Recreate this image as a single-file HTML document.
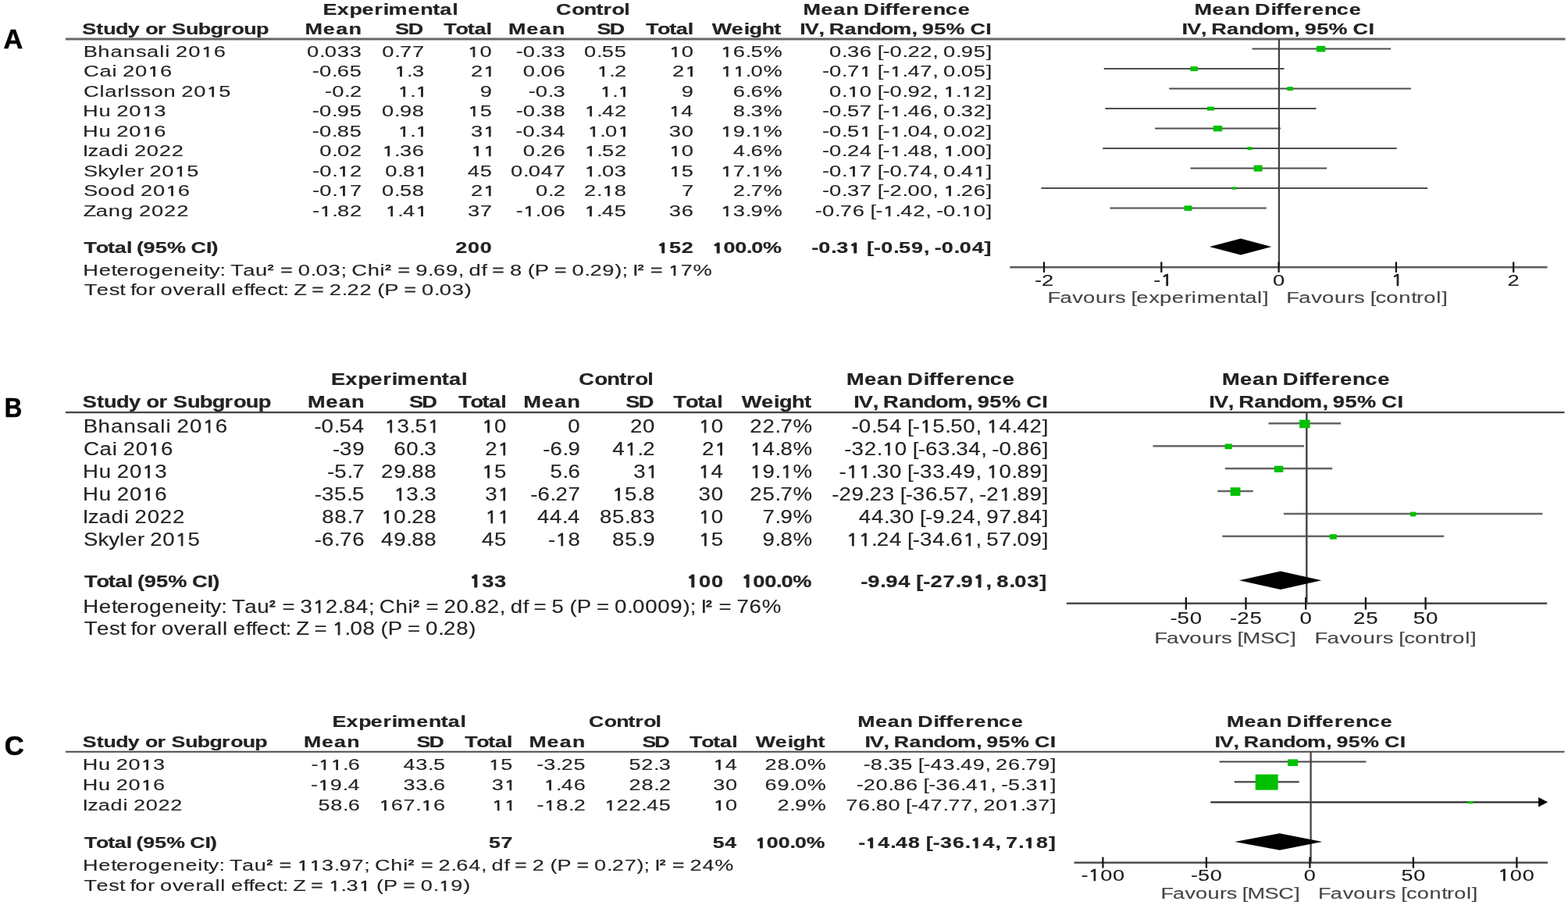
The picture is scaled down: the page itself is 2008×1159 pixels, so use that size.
<!DOCTYPE html><html><head><meta charset="utf-8"><style>
html,body{margin:0;padding:0;background:#fff;}
body{width:2008px;height:1159px;position:relative;overflow:hidden;}
svg{position:absolute;left:0;top:0;}
text{font-family:"Liberation Sans",Arial,sans-serif;font-size:12px;fill:#222;white-space:pre;stroke:var(--c,#222);stroke-width:0.06px;}
text.b{font-weight:bold;stroke-width:0.12px;}
.o{font-family:NanumGothic,"Liberation Sans",sans-serif;font-size:11.1px;stroke:var(--c,#222);stroke-width:0.42px;}
text.b .o{font-size:10.9px;stroke-width:0.6px;}
.sup{baseline-shift:1.5px;font-size:9.5px;stroke-width:0.4px;}
</style></head><body>
<svg width="2008" height="1159" viewBox="0 0 2008 1159">
<line x1="1603.50" y1="62.60" x2="1781.11" y2="62.60" stroke="#4d4d4d" stroke-width="2.00"/>
<line x1="1413.75" y1="88.10" x2="1644.49" y2="88.10" stroke="#4d4d4d" stroke-width="2.00"/>
<line x1="1497.24" y1="113.60" x2="1806.92" y2="113.60" stroke="#4d4d4d" stroke-width="2.00"/>
<line x1="1415.27" y1="139.10" x2="1685.48" y2="139.10" stroke="#4d4d4d" stroke-width="2.00"/>
<line x1="1479.03" y1="164.60" x2="1639.94" y2="164.60" stroke="#4d4d4d" stroke-width="2.00"/>
<line x1="1412.24" y1="190.10" x2="1788.70" y2="190.10" stroke="#4d4d4d" stroke-width="2.00"/>
<line x1="1524.57" y1="215.60" x2="1699.14" y2="215.60" stroke="#4d4d4d" stroke-width="2.00"/>
<line x1="1333.30" y1="241.10" x2="1828.17" y2="241.10" stroke="#4d4d4d" stroke-width="2.00"/>
<line x1="1421.34" y1="266.60" x2="1621.72" y2="266.60" stroke="#4d4d4d" stroke-width="2.00"/>
<line x1="84.00" y1="50.00" x2="2004.50" y2="50.00" stroke="#666" stroke-width="2.80"/>
<line x1="1637.90" y1="49.75" x2="1637.90" y2="342.20" stroke="#404040" stroke-width="2.20"/>
<line x1="1293.30" y1="342.20" x2="1981.60" y2="342.20" stroke="#5a5a5a" stroke-width="2.60"/>
<line x1="1337.00" y1="335.40" x2="1337.00" y2="348.90" stroke="#151515" stroke-width="2.30"/>
<line x1="1487.30" y1="335.40" x2="1487.30" y2="348.90" stroke="#151515" stroke-width="2.30"/>
<line x1="1637.60" y1="335.40" x2="1637.60" y2="348.90" stroke="#151515" stroke-width="2.30"/>
<line x1="1787.90" y1="335.40" x2="1787.90" y2="348.90" stroke="#151515" stroke-width="2.30"/>
<line x1="1938.20" y1="335.40" x2="1938.20" y2="348.90" stroke="#151515" stroke-width="2.30"/>
<polygon points="1548.90,316.00 1588.90,305.40 1628.30,316.00 1588.90,326.60" fill="#000"/>
<line x1="1624.52" y1="542.30" x2="1717.14" y2="542.30" stroke="#666" stroke-width="2.50"/>
<line x1="1476.42" y1="571.20" x2="1669.84" y2="571.20" stroke="#666" stroke-width="2.50"/>
<line x1="1568.83" y1="600.10" x2="1706.21" y2="600.10" stroke="#666" stroke-width="2.50"/>
<line x1="1559.29" y1="629.00" x2="1604.74" y2="629.00" stroke="#666" stroke-width="2.50"/>
<line x1="1643.90" y1="657.90" x2="1975.37" y2="657.90" stroke="#666" stroke-width="2.50"/>
<line x1="1565.36" y1="686.80" x2="1849.23" y2="686.80" stroke="#666" stroke-width="2.50"/>
<line x1="84.00" y1="528.20" x2="2003.50" y2="528.20" stroke="#444" stroke-width="2.30"/>
<line x1="1673.30" y1="528.00" x2="1673.30" y2="772.70" stroke="#4a4a4a" stroke-width="2.50"/>
<line x1="1365.80" y1="772.70" x2="1981.20" y2="772.70" stroke="#4a4a4a" stroke-width="2.60"/>
<line x1="1518.80" y1="764.90" x2="1518.80" y2="780.70" stroke="#151515" stroke-width="2.30"/>
<line x1="1595.50" y1="764.90" x2="1595.50" y2="780.70" stroke="#151515" stroke-width="2.30"/>
<line x1="1672.20" y1="764.90" x2="1672.20" y2="780.70" stroke="#151515" stroke-width="2.30"/>
<line x1="1748.90" y1="764.90" x2="1748.90" y2="780.70" stroke="#151515" stroke-width="2.30"/>
<line x1="1825.60" y1="764.90" x2="1825.60" y2="780.70" stroke="#151515" stroke-width="2.30"/>
<polygon points="1586.90,743.30 1639.90,731.50 1692.30,743.30 1639.90,755.10" fill="#000"/>
<line x1="1561.70" y1="975.50" x2="1749.48" y2="975.50" stroke="#454545" stroke-width="2.20"/>
<line x1="1580.62" y1="1001.40" x2="1663.71" y2="1001.40" stroke="#454545" stroke-width="2.20"/>
<line x1="1550.27" y1="1027.30" x2="1972.10" y2="1027.30" stroke="#2a2a2a" stroke-width="2.20"/>
<polygon points="1970.10,1021.10 1982.10,1027.30 1970.10,1033.50" fill="#000"/>
<line x1="84.00" y1="962.80" x2="2003.50" y2="962.80" stroke="#4a4a4a" stroke-width="2.10"/>
<line x1="1678.60" y1="962.60" x2="1678.60" y2="1104.70" stroke="#454545" stroke-width="2.30"/>
<line x1="1375.50" y1="1104.70" x2="1982.10" y2="1104.70" stroke="#4e4e4e" stroke-width="2.60"/>
<line x1="1412.40" y1="1097.60" x2="1412.40" y2="1111.70" stroke="#151515" stroke-width="2.30"/>
<line x1="1544.90" y1="1097.60" x2="1544.90" y2="1111.70" stroke="#151515" stroke-width="2.30"/>
<line x1="1677.40" y1="1097.60" x2="1677.40" y2="1111.70" stroke="#151515" stroke-width="2.30"/>
<line x1="1809.90" y1="1097.60" x2="1809.90" y2="1111.70" stroke="#151515" stroke-width="2.30"/>
<line x1="1942.40" y1="1097.60" x2="1942.40" y2="1111.70" stroke="#151515" stroke-width="2.30"/>
<polygon points="1581.30,1078.00 1638.70,1067.20 1693.30,1078.00 1638.70,1088.80" fill="#000"/>
<rect x="1685.80" y="58.80" width="11.50" height="7.60" fill="#00c000"/>
<rect x="1524.37" y="85.10" width="9.50" height="6.00" fill="#00c000"/>
<rect x="1648.33" y="111.10" width="7.50" height="5.00" fill="#00c000"/>
<rect x="1545.87" y="136.60" width="9.00" height="5.00" fill="#00c000"/>
<rect x="1553.73" y="160.90" width="11.50" height="7.40" fill="#00c000"/>
<rect x="1597.47" y="188.10" width="6.00" height="4.00" fill="#00c000"/>
<rect x="1605.59" y="211.60" width="11.00" height="8.00" fill="#00c000"/>
<rect x="1578.23" y="239.35" width="5.00" height="3.50" fill="#00c000"/>
<rect x="1516.53" y="263.30" width="10.00" height="6.60" fill="#00c000"/>
<rect x="1664.13" y="537.60" width="13.40" height="10.60" fill="#00c000"/>
<rect x="1568.53" y="568.40" width="9.20" height="6.80" fill="#00c000"/>
<rect x="1631.77" y="596.60" width="11.50" height="8.20" fill="#00c000"/>
<rect x="1575.62" y="624.25" width="12.80" height="10.70" fill="#00c000"/>
<rect x="1805.94" y="655.60" width="7.40" height="5.80" fill="#00c000"/>
<rect x="1702.79" y="684.20" width="9.00" height="6.40" fill="#00c000"/>
<rect x="1649.09" y="972.40" width="13.00" height="8.60" fill="#00c000"/>
<rect x="1607.67" y="991.70" width="29.00" height="20.00" fill="#00c000"/>
<rect x="1879.84" y="1026.00" width="6.50" height="3.20" fill="#00c000"/>
<text id="t0" transform="matrix(0.9521 0 0 0.9932 4.54 62.10)" x="0" y="0" class="b" style="font-size:36px;stroke:#000;stroke-width:0.6px;fill:#000;--c:#000;">A</text>
<text id="t1" transform="matrix(2.2500 0 0 1.6715 413.49 18.80)" x="0 8.07 15.13 22.2 29.26 34.3 37.33 48.43 55.49 62.55 66.59 73.65" y="0" class="b">Experimental</text>
<text id="t2" transform="matrix(2.2500 0 0 1.6715 711.99 18.80)" x="0 8.96 15.92 22.89 26.87 31.84 38.81" y="0" class="b">Control</text>
<text id="t3" transform="matrix(2.2500 0 0 1.6715 1028.59 18.80)" x="0 10.12 17.21 24.29 31.37 34.41 43.52 46.56 50.6 54.65 61.74 66.8 73.88 80.97 88.05" y="0" class="b">Mean Difference</text>
<text id="t4" transform="matrix(2.2500 0 0 1.6715 1529.49 18.80)" x="0 10.13 17.22 24.31 31.41 34.45 43.56 46.6 50.66 54.71 61.8 66.86 73.96 81.05 88.14" y="0" class="b">Mean Difference</text>
<text id="t5" transform="matrix(2.2500 0 0 1.6715 105.22 44.15)" x="0 8 12 19 26 33 36 43 48 51 59 66 73 80 85 92 99" y="0" class="b">Study or Subgroup</text>
<text id="t6" transform="matrix(2.2500 0 0 1.6715 390.59 44.15)" x="0 10.35 17.59 24.84" y="0" class="b">Mean</text>
<text id="t7" transform="matrix(2.2500 0 0 1.6715 506.12 44.15)" x="0 7.34" y="0" class="b">SD</text>
<text id="t8" transform="matrix(2.2500 0 0 1.6715 568.30 44.15)" x="0 6.76 13.52 17.38 24.14" y="0" class="b">Total</text>
<text id="t9" transform="matrix(2.2500 0 0 1.6715 651.09 44.15)" x="0 10.35 17.59 24.84" y="0" class="b">Mean</text>
<text id="t10" transform="matrix(2.2500 0 0 1.6715 764.62 44.15)" x="0 7.12" y="0" class="b">SD</text>
<text id="t11" transform="matrix(2.2500 0 0 1.6715 827.10 44.15)" x="0 6.68 13.37 17.19 23.87" y="0" class="b">Total</text>
<text id="t12" transform="matrix(2.2500 0 0 1.6715 911.77 44.15)" x="0 11.11 18.19 21.22 28.29 35.36" y="0" class="b">Weight</text>
<text id="t13" transform="matrix(2.2500 0 0 1.6715 1024.19 44.15)" x="0 2.94 10.78 13.72 16.66 25.48 32.34 39.2 46.05 52.91 63.69 66.63 69.57 76.43 83.29 94.07 97.01 105.83" y="0" class="b">IV, Random, 95% CI</text>
<text id="t14" transform="matrix(2.2500 0 0 1.6715 1513.59 44.15)" x="0 2.95 10.81 13.76 16.71 25.56 32.44 39.33 46.21 53.09 63.91 66.86 69.81 76.69 83.57 94.38 97.33 106.18" y="0" class="b">IV, Random, 95% CI</text>
<text id="t15" transform="matrix(2.2800 0 0 1.6715 106.66 72.60)" x="0 8.14 15.27 22.4 29.53 35.63 42.76 45.82 48.87 51.92 59.05 66.18 73.3" y="0" class="r">Bhansali 20<tspan class="o">1</tspan>6</text>
<text id="t16" transform="matrix(2.2800 0 0 1.6715 393.07 72.60)" x="0 7 10 17 24" y="0" class="r">0.033</text>
<text id="t17" transform="matrix(2.2800 0 0 1.6715 489.30 72.60)" x="0 7 10 17" y="0" class="r">0.77</text>
<text id="t18" transform="matrix(2.2800 0 0 1.6715 598.59 72.60)" x="0 7" y="0" class="r"><tspan class="o">1</tspan>0</text>
<text id="t19" transform="matrix(2.2800 0 0 1.6715 660.71 72.60)" x="0 4 11 14 21" y="0" class="r">-0.33</text>
<text id="t20" transform="matrix(2.2800 0 0 1.6715 748.08 72.60)" x="0 7 10 17" y="0" class="r">0.55</text>
<text id="t21" transform="matrix(2.2800 0 0 1.6715 856.69 72.60)" x="0 7" y="0" class="r"><tspan class="o">1</tspan>0</text>
<text id="t22" transform="matrix(2.2800 0 0 1.6715 922.81 72.60)" x="0 7 14 17 24" y="0" class="r"><tspan class="o">1</tspan>6.5%</text>
<text id="t23" transform="matrix(2.2800 0 0 1.6715 1062.10 72.60)" x="0 7 10 17 24 27 30 34 41 44 51 58 61 64 71 74 81 88" y="0" class="r">0.36 [-0.22, 0.95]</text>
<text id="t24" transform="matrix(2.2800 0 0 1.6715 106.90 98.10)" x="0 9 16 19 22 29 36 43" y="0" class="r">Cai 20<tspan class="o">1</tspan>6</text>
<text id="t25" transform="matrix(2.2800 0 0 1.6715 399.86 98.10)" x="0 4 11 14 21" y="0" class="r">-0.65</text>
<text id="t26" transform="matrix(2.2800 0 0 1.6715 505.09 98.10)" x="0 7 10" y="0" class="r"><tspan class="o">1</tspan>.3</text>
<text id="t27" transform="matrix(2.2800 0 0 1.6715 602.92 98.10)" x="0 7" y="0" class="r">2<tspan class="o">1</tspan></text>
<text id="t28" transform="matrix(2.2800 0 0 1.6715 669.83 98.10)" x="0 7 10 17" y="0" class="r">0.06</text>
<text id="t29" transform="matrix(2.2800 0 0 1.6715 764.26 98.10)" x="0 7 10" y="0" class="r"><tspan class="o">1</tspan>.2</text>
<text id="t30" transform="matrix(2.2800 0 0 1.6715 861.02 98.10)" x="0 7" y="0" class="r">2<tspan class="o">1</tspan></text>
<text id="t31" transform="matrix(2.2800 0 0 1.6715 922.81 98.10)" x="0 7 14 17 24" y="0" class="r"><tspan class="o">1</tspan><tspan class="o">1</tspan>.0%</text>
<text id="t32" transform="matrix(2.2800 0 0 1.6715 1052.98 98.10)" x="0 4 11 14 21 28 31 34 38 45 48 55 62 65 68 75 78 85 92" y="0" class="r">-0.7<tspan class="o">1</tspan> [-<tspan class="o">1</tspan>.47, 0.05]</text>
<text id="t33" transform="matrix(2.2800 0 0 1.6715 106.90 123.60)" x="0 9 12 19 23 26 32 38 45 52 55 62 69 76" y="0" class="r">Clarlsson 20<tspan class="o">1</tspan>5</text>
<text id="t34" transform="matrix(2.2800 0 0 1.6715 416.04 123.60)" x="0 4 11 14" y="0" class="r">-0.2</text>
<text id="t35" transform="matrix(2.2800 0 0 1.6715 509.28 123.60)" x="0 7 10" y="0" class="r"><tspan class="o">1</tspan>.<tspan class="o">1</tspan></text>
<text id="t36" transform="matrix(2.2800 0 0 1.6715 614.77 123.60)" x="0" y="0" class="r">9</text>
<text id="t37" transform="matrix(2.2800 0 0 1.6715 676.67 123.60)" x="0 4 11 14" y="0" class="r">-0.3</text>
<text id="t38" transform="matrix(2.2800 0 0 1.6715 768.28 123.60)" x="0 7 10" y="0" class="r"><tspan class="o">1</tspan>.<tspan class="o">1</tspan></text>
<text id="t39" transform="matrix(2.2800 0 0 1.6715 872.87 123.60)" x="0" y="0" class="r">9</text>
<text id="t40" transform="matrix(2.2800 0 0 1.6715 938.77 123.60)" x="0 7 10 17" y="0" class="r">6.6%</text>
<text id="t41" transform="matrix(2.2800 0 0 1.6715 1062.10 123.60)" x="0 7 10 17 24 27 30 34 41 44 51 58 61 64 71 74 81 88" y="0" class="r">0.<tspan class="o">1</tspan>0 [-0.92, <tspan class="o">1</tspan>.<tspan class="o">1</tspan>2]</text>
<text id="t42" transform="matrix(2.2800 0 0 1.6715 106.06 149.10)" x="0 9 16 19 26 33 40" y="0" class="r">Hu 20<tspan class="o">1</tspan>3</text>
<text id="t43" transform="matrix(2.2800 0 0 1.6715 399.86 149.10)" x="0 4 11 14 21" y="0" class="r">-0.95</text>
<text id="t44" transform="matrix(2.2800 0 0 1.6715 489.10 149.10)" x="0 7 10 17" y="0" class="r">0.98</text>
<text id="t45" transform="matrix(2.2800 0 0 1.6715 598.68 149.10)" x="0 7" y="0" class="r"><tspan class="o">1</tspan>5</text>
<text id="t46" transform="matrix(2.2800 0 0 1.6715 660.68 149.10)" x="0 4 11 14 21" y="0" class="r">-0.38</text>
<text id="t47" transform="matrix(2.2800 0 0 1.6715 748.30 149.10)" x="0 7 10 17" y="0" class="r"><tspan class="o">1</tspan>.42</text>
<text id="t48" transform="matrix(2.2800 0 0 1.6715 856.42 149.10)" x="0 7" y="0" class="r"><tspan class="o">1</tspan>4</text>
<text id="t49" transform="matrix(2.2800 0 0 1.6715 938.77 149.10)" x="0 7 10 17" y="0" class="r">8.3%</text>
<text id="t50" transform="matrix(2.2800 0 0 1.6715 1052.98 149.10)" x="0 4 11 14 21 28 31 34 38 45 48 55 62 65 68 75 78 85 92" y="0" class="r">-0.57 [-<tspan class="o">1</tspan>.46, 0.32]</text>
<text id="t51" transform="matrix(2.2800 0 0 1.6715 106.06 174.60)" x="0 9 16 19 26 33 40" y="0" class="r">Hu 20<tspan class="o">1</tspan>6</text>
<text id="t52" transform="matrix(2.2800 0 0 1.6715 399.86 174.60)" x="0 4 11 14 21" y="0" class="r">-0.85</text>
<text id="t53" transform="matrix(2.2800 0 0 1.6715 509.28 174.60)" x="0 7 10" y="0" class="r"><tspan class="o">1</tspan>.<tspan class="o">1</tspan></text>
<text id="t54" transform="matrix(2.2800 0 0 1.6715 602.92 174.60)" x="0 7" y="0" class="r">3<tspan class="o">1</tspan></text>
<text id="t55" transform="matrix(2.2800 0 0 1.6715 660.30 174.60)" x="0 4 11 14 21" y="0" class="r">-0.34</text>
<text id="t56" transform="matrix(2.2800 0 0 1.6715 752.32 174.60)" x="0 7 10 17" y="0" class="r"><tspan class="o">1</tspan>.0<tspan class="o">1</tspan></text>
<text id="t57" transform="matrix(2.2800 0 0 1.6715 856.69 174.60)" x="0 7" y="0" class="r">30</text>
<text id="t58" transform="matrix(2.2800 0 0 1.6715 922.81 174.60)" x="0 7 14 17 24" y="0" class="r"><tspan class="o">1</tspan>9.<tspan class="o">1</tspan>%</text>
<text id="t59" transform="matrix(2.2800 0 0 1.6715 1052.98 174.60)" x="0 4 11 14 21 28 31 34 38 45 48 55 62 65 68 75 78 85 92" y="0" class="r">-0.5<tspan class="o">1</tspan> [-<tspan class="o">1</tspan>.04, 0.02]</text>
<text id="t60" transform="matrix(2.2800 0 0 1.6715 105.78 200.10)" x="0 3 9 16 23 26 29 36 43 50" y="0" class="r">Izadi 2022</text>
<text id="t61" transform="matrix(2.2800 0 0 1.6715 409.20 200.10)" x="0 7 10 17" y="0" class="r">0.02</text>
<text id="t62" transform="matrix(2.2800 0 0 1.6715 489.13 200.10)" x="0 7 10 17" y="0" class="r"><tspan class="o">1</tspan>.36</text>
<text id="t63" transform="matrix(2.2800 0 0 1.6715 602.92 200.10)" x="0 7" y="0" class="r"><tspan class="o">1</tspan><tspan class="o">1</tspan></text>
<text id="t64" transform="matrix(2.2800 0 0 1.6715 669.83 200.10)" x="0 7 10 17" y="0" class="r">0.26</text>
<text id="t65" transform="matrix(2.2800 0 0 1.6715 748.30 200.10)" x="0 7 10 17" y="0" class="r"><tspan class="o">1</tspan>.52</text>
<text id="t66" transform="matrix(2.2800 0 0 1.6715 856.69 200.10)" x="0 7" y="0" class="r"><tspan class="o">1</tspan>0</text>
<text id="t67" transform="matrix(2.2800 0 0 1.6715 938.77 200.10)" x="0 7 10 17" y="0" class="r">4.6%</text>
<text id="t68" transform="matrix(2.2800 0 0 1.6715 1052.98 200.10)" x="0 4 11 14 21 28 31 34 38 45 48 55 62 65 68 75 78 85 92" y="0" class="r">-0.24 [-<tspan class="o">1</tspan>.48, <tspan class="o">1</tspan>.00]</text>
<text id="t69" transform="matrix(2.2800 0 0 1.6715 107.04 225.60)" x="0 8 14 20 23 30 34 37 44 51 58" y="0" class="r">Skyler 20<tspan class="o">1</tspan>5</text>
<text id="t70" transform="matrix(2.2800 0 0 1.6715 400.08 225.60)" x="0 4 11 14 21" y="0" class="r">-0.<tspan class="o">1</tspan>2</text>
<text id="t71" transform="matrix(2.2800 0 0 1.6715 493.32 225.60)" x="0 7 10 17" y="0" class="r">0.8<tspan class="o">1</tspan></text>
<text id="t72" transform="matrix(2.2800 0 0 1.6715 598.68 225.60)" x="0 7" y="0" class="r">45</text>
<text id="t73" transform="matrix(2.2800 0 0 1.6715 654.04 225.60)" x="0 7 10 17 24" y="0" class="r">0.047</text>
<text id="t74" transform="matrix(2.2800 0 0 1.6715 748.13 225.60)" x="0 7 10 17" y="0" class="r"><tspan class="o">1</tspan>.03</text>
<text id="t75" transform="matrix(2.2800 0 0 1.6715 856.78 225.60)" x="0 7" y="0" class="r"><tspan class="o">1</tspan>5</text>
<text id="t76" transform="matrix(2.2800 0 0 1.6715 922.81 225.60)" x="0 7 14 17 24" y="0" class="r"><tspan class="o">1</tspan>7.<tspan class="o">1</tspan>%</text>
<text id="t77" transform="matrix(2.2800 0 0 1.6715 1052.98 225.60)" x="0 4 11 14 21 28 31 34 38 45 48 55 62 65 68 75 78 85 92" y="0" class="r">-0.<tspan class="o">1</tspan>7 [-0.74, 0.4<tspan class="o">1</tspan>]</text>
<text id="t78" transform="matrix(2.2800 0 0 1.6715 107.04 251.10)" x="0 8 15 22 29 32 39 46 53" y="0" class="r">Sood 20<tspan class="o">1</tspan>6</text>
<text id="t79" transform="matrix(2.2800 0 0 1.6715 400.08 251.10)" x="0 4 11 14 21" y="0" class="r">-0.<tspan class="o">1</tspan>7</text>
<text id="t80" transform="matrix(2.2800 0 0 1.6715 489.10 251.10)" x="0 7 10 17" y="0" class="r">0.58</text>
<text id="t81" transform="matrix(2.2800 0 0 1.6715 602.92 251.10)" x="0 7" y="0" class="r">2<tspan class="o">1</tspan></text>
<text id="t82" transform="matrix(2.2800 0 0 1.6715 685.96 251.10)" x="0 7 10" y="0" class="r">0.2</text>
<text id="t83" transform="matrix(2.2800 0 0 1.6715 748.10 251.10)" x="0 7 10 17" y="0" class="r">2.<tspan class="o">1</tspan>8</text>
<text id="t84" transform="matrix(2.2800 0 0 1.6715 872.96 251.10)" x="0" y="0" class="r">7</text>
<text id="t85" transform="matrix(2.2800 0 0 1.6715 938.77 251.10)" x="0 7 10 17" y="0" class="r">2.7%</text>
<text id="t86" transform="matrix(2.2800 0 0 1.6715 1052.98 251.10)" x="0 4 11 14 21 28 31 34 38 45 48 55 62 65 68 75 78 85 92" y="0" class="r">-0.37 [-2.00, <tspan class="o">1</tspan>.26]</text>
<text id="t87" transform="matrix(2.2800 0 0 1.6715 106.72 276.60)" x="0 7.05 14.1 21.15 28.21 31.23 38.28 45.33 52.38" y="0" class="r">Zang 2022</text>
<text id="t88" transform="matrix(2.2800 0 0 1.6715 400.08 276.60)" x="0 4 11 14 21" y="0" class="r">-<tspan class="o">1</tspan>.82</text>
<text id="t89" transform="matrix(2.2800 0 0 1.6715 493.32 276.60)" x="0 7 10 17" y="0" class="r"><tspan class="o">1</tspan>.4<tspan class="o">1</tspan></text>
<text id="t90" transform="matrix(2.2800 0 0 1.6715 598.90 276.60)" x="0 7" y="0" class="r">37</text>
<text id="t91" transform="matrix(2.2800 0 0 1.6715 660.71 276.60)" x="0 4 11 14 21" y="0" class="r">-<tspan class="o">1</tspan>.06</text>
<text id="t92" transform="matrix(2.2800 0 0 1.6715 748.08 276.60)" x="0 7 10 17" y="0" class="r"><tspan class="o">1</tspan>.45</text>
<text id="t93" transform="matrix(2.2800 0 0 1.6715 856.83 276.60)" x="0 7" y="0" class="r">36</text>
<text id="t94" transform="matrix(2.2800 0 0 1.6715 922.81 276.60)" x="0 7 14 17 24" y="0" class="r"><tspan class="o">1</tspan>3.9%</text>
<text id="t95" transform="matrix(2.2800 0 0 1.6715 1043.86 276.60)" x="0 4 11 14 21 28 31 34 38 45 48 55 62 65 68 72 79 82 89 96" y="0" class="r">-0.76 [-<tspan class="o">1</tspan>.42, -0.<tspan class="o">1</tspan>0]</text>
<text id="t96" transform="matrix(2.2500 0 0 1.6715 107.60 323.70)" x="0 6.76 13.51 17.37 24.13 27.02 29.92 33.78 40.53 47.29 57.9 60.8 69.49 72.38" y="0" class="b">Total (95% CI)</text>
<text id="t97" transform="matrix(2.2500 0 0 1.6715 583.30 323.70)" x="0 7 14" y="0" class="b">200</text>
<text id="t98" transform="matrix(2.2500 0 0 1.6715 841.37 323.70)" x="0 7 14" y="0" class="b"><tspan class="o">1</tspan>52</text>
<text id="t99" transform="matrix(2.2500 0 0 1.6715 911.64 323.70)" x="0 6.57 13.14 19.71 22.52 29.09" y="0" class="b"><tspan class="o">1</tspan>00.0%</text>
<text id="t100" transform="matrix(2.2500 0 0 1.6715 1039.25 323.70)" x="0 4.06 11.16 14.2 21.3 28.4 31.44 35.5 39.56 46.66 49.7 56.8 63.9 66.94 69.99 74.04 81.15 84.19 91.29 98.39" y="0" class="b">-0.3<tspan class="o">1</tspan> [-0.59, -0.04]</text>
<text id="t101" transform="matrix(2.2800 0 0 1.6715 106.16 352.90)" x="0 8.99 15.99 18.98 25.98 29.97 36.97 43.96 50.96 57.95 64.94 67.94 70.94 76.93 79.93 82.93 89.92 96.92 103.91 107.91 110.91 117.9 120.9 127.89 130.89 137.88 144.88 147.87 150.87 159.86 166.86 169.86 173.85 176.85 183.84 186.84 193.84 196.83 203.83 210.82 213.82 216.82 223.81 226.81 229.81 236.8 239.8 246.79 249.79 253.79 261.78 264.78 271.77 274.77 281.76 284.76 291.75 298.75 302.74 305.74 308.74 311.74 315.73 318.73 325.72 328.72 335.72 342.71" y="0" class="r">Heterogeneity: Tau<tspan class="sup">²</tspan> = 0.03; Chi<tspan class="sup">²</tspan> = 9.69, df = 8 (P = 0.29); I<tspan class="sup">²</tspan> = <tspan class="o">1</tspan>7%</text>
<text id="t102" transform="matrix(2.2800 0 0 1.6715 107.80 378.30)" x="0 6.99 13.97 19.96 22.95 25.94 28.94 35.92 39.92 42.91 49.89 55.88 62.87 66.86 73.84 76.84 79.83 82.82 89.81 92.8 95.8 102.78 108.77 111.76 114.76 117.75 124.74 127.73 134.71 137.71 144.69 147.69 154.67 161.66 164.65 168.64 176.63 179.62 186.6 189.6 196.58 199.58 206.56 213.55" y="0" class="r">Test for overall effect: Z = 2.22 (P = 0.03)</text>
<text id="t103" transform="matrix(2.2800 0 0 1.6957 1324.92 365.60)" x="0 4" y="0" class="r" style="fill:#1a1a1a;--c:#1a1a1a;">-2</text>
<text id="t104" transform="matrix(2.2800 0 0 1.6957 1477.23 365.60)" x="0 4" y="0" class="r" style="fill:#1a1a1a;--c:#1a1a1a;">-<tspan class="o">1</tspan></text>
<text id="t105" transform="matrix(2.2800 0 0 1.6957 1629.99 365.60)" x="0" y="0" class="r" style="fill:#1a1a1a;--c:#1a1a1a;">0</text>
<text id="t106" transform="matrix(2.2800 0 0 1.6957 1781.43 365.60)" x="0" y="0" class="r" style="fill:#1a1a1a;--c:#1a1a1a;"><tspan class="o">1</tspan></text>
<text id="t107" transform="matrix(2.2800 0 0 1.6957 1930.59 365.60)" x="0" y="0" class="r" style="fill:#1a1a1a;--c:#1a1a1a;">2</text>
<text id="t108" transform="matrix(2.2800 0 0 1.6715 1341.46 387.60)" x="0 6.99 13.98 19.97 26.96 33.95 37.94 43.94 46.93 49.93 56.92 62.91 69.9 76.89 80.88 83.88 93.86 100.85 107.84 110.84 117.83 120.82" y="0" class="r" style="fill:#444;--c:#444;">Favours [experimental]</text>
<text id="t109" transform="matrix(2.2800 0 0 1.6715 1647.26 387.60)" x="0 7.02 14.04 20.05 27.07 34.09 38.1 44.12 47.12 50.13 56.15 63.17 70.18 73.19 77.2 84.22 87.23" y="0" class="r" style="fill:#444;--c:#444;">Favours [control]</text>
<text id="t110" transform="matrix(0.8652 0 0 0.9932 5.81 533.50)" x="0" y="0" class="b" style="font-size:36px;stroke:#000;stroke-width:0.6px;fill:#000;--c:#000;">B</text>
<text id="t111" transform="matrix(2.2725 0 0 1.8895 423.97 493.30)" x="0 8.06 15.11 22.16 29.21 34.24 37.27 48.34 55.39 62.44 66.47 73.52" y="0" class="b">Experimental</text>
<text id="t112" transform="matrix(2.2725 0 0 1.8895 741.28 493.30)" x="0 8.93 15.88 22.83 26.8 31.76 38.71" y="0" class="b">Control</text>
<text id="t113" transform="matrix(2.2725 0 0 1.8895 1083.97 493.30)" x="0 10.11 17.19 24.27 31.34 34.38 43.48 46.51 50.55 54.6 61.67 66.73 73.81 80.88 87.96" y="0" class="b">Mean Difference</text>
<text id="t114" transform="matrix(2.2725 0 0 1.8895 1565.07 493.30)" x="0 10.07 17.12 24.17 31.22 34.24 43.3 46.32 50.35 54.38 61.43 66.46 73.51 80.56 87.61" y="0" class="b">Mean Difference</text>
<text id="t115" transform="matrix(2.2725 0 0 1.8895 105.81 521.50)" x="0 8 12 19 26 33 36 43 48 51 59 66 73 80 85 92 99" y="0" class="b">Study or Subgroup</text>
<text id="t116" transform="matrix(2.2725 0 0 1.8895 394.07 521.50)" x="0 10.24 17.41 24.58" y="0" class="b">Mean</text>
<text id="t117" transform="matrix(2.2725 0 0 1.8895 524.01 521.50)" x="0 7.19" y="0" class="b">SD</text>
<text id="t118" transform="matrix(2.2725 0 0 1.8895 587.30 521.50)" x="0 6.65 13.3 17.09 23.74" y="0" class="b">Total</text>
<text id="t119" transform="matrix(2.2725 0 0 1.8895 670.37 521.50)" x="0 10.24 17.41 24.58" y="0" class="b">Mean</text>
<text id="t120" transform="matrix(2.2725 0 0 1.8895 801.31 521.50)" x="0 7.28" y="0" class="b">SD</text>
<text id="t121" transform="matrix(2.2725 0 0 1.8895 862.30 521.50)" x="0 6.88 13.76 17.7 24.58" y="0" class="b">Total</text>
<text id="t122" transform="matrix(2.2725 0 0 1.8895 949.67 521.50)" x="0 11.12 18.19 21.22 28.29 35.37" y="0" class="b">Weight</text>
<text id="t123" transform="matrix(2.2725 0 0 1.8895 1093.17 521.50)" x="0 2.95 10.8 13.75 16.7 25.54 32.41 39.29 46.17 53.04 63.85 66.79 69.74 76.62 83.49 94.3 97.24 106.08" y="0" class="b">IV, Random, 95% CI</text>
<text id="t124" transform="matrix(2.2725 0 0 1.8895 1548.27 521.50)" x="0 2.95 10.81 13.76 16.71 25.55 32.43 39.31 46.18 53.06 63.87 66.82 69.77 76.65 83.53 94.33 97.28 106.13" y="0" class="b">IV, Random, 95% CI</text>
<text id="t125" transform="matrix(2.3028 0 0 1.9864 106.73 554.30)" x="0 8.16 15.3 22.44 29.58 35.7 42.84 45.9 48.96 52.02 59.16 66.3 73.44" y="0" class="r">Bhansali 20<tspan class="o">1</tspan>6</text>
<text id="t126" transform="matrix(2.3028 0 0 1.9864 402.38 554.30)" x="0 4 11 14 21" y="0" class="r">-0.54</text>
<text id="t127" transform="matrix(2.3028 0 0 1.9864 492.31 554.30)" x="0 7 14 17 24" y="0" class="r"><tspan class="o">1</tspan>3.5<tspan class="o">1</tspan></text>
<text id="t128" transform="matrix(2.3028 0 0 1.9864 616.89 554.30)" x="0 7" y="0" class="r"><tspan class="o">1</tspan>0</text>
<text id="t129" transform="matrix(2.3028 0 0 1.9864 727.31 554.30)" x="0" y="0" class="r">0</text>
<text id="t130" transform="matrix(2.3028 0 0 1.9864 806.89 554.30)" x="0 7" y="0" class="r">20</text>
<text id="t131" transform="matrix(2.3028 0 0 1.9864 894.59 554.30)" x="0 7" y="0" class="r"><tspan class="o">1</tspan>0</text>
<text id="t132" transform="matrix(2.3028 0 0 1.9864 960.33 554.30)" x="0 7 14 17 24" y="0" class="r">22.7%</text>
<text id="t133" transform="matrix(2.3028 0 0 1.9864 1090.58 554.30)" x="0 4 11 14 21 28 31 34 38 45 52 55 62 69 72 75 82 89 92 99 106" y="0" class="r">-0.54 [-<tspan class="o">1</tspan>5.50, <tspan class="o">1</tspan>4.42]</text>
<text id="t134" transform="matrix(2.3028 0 0 1.9864 106.89 583.20)" x="0 9 16 19 22 29 36 43" y="0" class="r">Cai 20<tspan class="o">1</tspan>6</text>
<text id="t135" transform="matrix(2.3028 0 0 1.9864 425.90 583.20)" x="0 4 11" y="0" class="r">-39</text>
<text id="t136" transform="matrix(2.3028 0 0 1.9864 504.20 583.20)" x="0 7 14 17" y="0" class="r">60.3</text>
<text id="t137" transform="matrix(2.3028 0 0 1.9864 621.26 583.20)" x="0 7" y="0" class="r">2<tspan class="o">1</tspan></text>
<text id="t138" transform="matrix(2.3028 0 0 1.9864 695.30 583.20)" x="0 4 11 14" y="0" class="r">-6.9</text>
<text id="t139" transform="matrix(2.3028 0 0 1.9864 784.17 583.20)" x="0 7 14 17" y="0" class="r">4<tspan class="o">1</tspan>.2</text>
<text id="t140" transform="matrix(2.3028 0 0 1.9864 898.96 583.20)" x="0 7" y="0" class="r">2<tspan class="o">1</tspan></text>
<text id="t141" transform="matrix(2.3028 0 0 1.9864 960.33 583.20)" x="0 7 14 17 24" y="0" class="r"><tspan class="o">1</tspan>4.8%</text>
<text id="t142" transform="matrix(2.3028 0 0 1.9864 1081.37 583.20)" x="0 4 11 18 21 28 35 38 41 45 52 59 62 69 76 79 82 86 93 96 103 110" y="0" class="r">-32.<tspan class="o">1</tspan>0 [-63.34, -0.86]</text>
<text id="t143" transform="matrix(2.3028 0 0 1.9864 106.03 612.10)" x="0 9 16 19 26 33 40" y="0" class="r">Hu 20<tspan class="o">1</tspan>3</text>
<text id="t144" transform="matrix(2.3028 0 0 1.9864 419.08 612.10)" x="0 4 11 14" y="0" class="r">-5.7</text>
<text id="t145" transform="matrix(2.3028 0 0 1.9864 488.06 612.10)" x="0 7 14 17 24" y="0" class="r">29.88</text>
<text id="t146" transform="matrix(2.3028 0 0 1.9864 616.98 612.10)" x="0 7" y="0" class="r"><tspan class="o">1</tspan>5</text>
<text id="t147" transform="matrix(2.3028 0 0 1.9864 704.42 612.10)" x="0 7 10" y="0" class="r">5.6</text>
<text id="t148" transform="matrix(2.3028 0 0 1.9864 811.26 612.10)" x="0 7" y="0" class="r">3<tspan class="o">1</tspan></text>
<text id="t149" transform="matrix(2.3028 0 0 1.9864 894.32 612.10)" x="0 7" y="0" class="r"><tspan class="o">1</tspan>4</text>
<text id="t150" transform="matrix(2.3028 0 0 1.9864 960.33 612.10)" x="0 7 14 17 24" y="0" class="r"><tspan class="o">1</tspan>9.<tspan class="o">1</tspan>%</text>
<text id="t151" transform="matrix(2.3028 0 0 1.9864 1074.46 612.10)" x="0 4 11 18 21 28 35 38 41 45 52 59 62 69 76 79 82 89 96 99 106 113" y="0" class="r">-<tspan class="o">1</tspan><tspan class="o">1</tspan>.30 [-33.49, <tspan class="o">1</tspan>0.89]</text>
<text id="t152" transform="matrix(2.3028 0 0 1.9864 106.03 641.00)" x="0 9 16 19 26 33 40" y="0" class="r">Hu 20<tspan class="o">1</tspan>6</text>
<text id="t153" transform="matrix(2.3028 0 0 1.9864 402.74 641.00)" x="0 4 11 18 21" y="0" class="r">-35.5</text>
<text id="t154" transform="matrix(2.3028 0 0 1.9864 504.20 641.00)" x="0 7 14 17" y="0" class="r"><tspan class="o">1</tspan>3.3</text>
<text id="t155" transform="matrix(2.3028 0 0 1.9864 621.26 641.00)" x="0 7" y="0" class="r">3<tspan class="o">1</tspan></text>
<text id="t156" transform="matrix(2.3028 0 0 1.9864 679.26 641.00)" x="0 4 11 14 21" y="0" class="r">-6.27</text>
<text id="t157" transform="matrix(2.3028 0 0 1.9864 783.98 641.00)" x="0 7 14 17" y="0" class="r"><tspan class="o">1</tspan>5.8</text>
<text id="t158" transform="matrix(2.3028 0 0 1.9864 894.59 641.00)" x="0 7" y="0" class="r">30</text>
<text id="t159" transform="matrix(2.3028 0 0 1.9864 960.33 641.00)" x="0 7 14 17 24" y="0" class="r">25.7%</text>
<text id="t160" transform="matrix(2.3028 0 0 1.9864 1065.25 641.00)" x="0 4 11 18 21 28 35 38 41 45 52 59 62 69 76 79 82 86 93 100 103 110 117" y="0" class="r">-29.23 [-36.57, -2<tspan class="o">1</tspan>.89]</text>
<text id="t161" transform="matrix(2.3028 0 0 1.9864 105.76 669.90)" x="0 3 9 16 23 26 29 36 43 50" y="0" class="r">Izadi 2022</text>
<text id="t162" transform="matrix(2.3028 0 0 1.9864 412.17 669.90)" x="0 7 14 17" y="0" class="r">88.7</text>
<text id="t163" transform="matrix(2.3028 0 0 1.9864 488.06 669.90)" x="0 7 14 17 24" y="0" class="r"><tspan class="o">1</tspan>0.28</text>
<text id="t164" transform="matrix(2.3028 0 0 1.9864 621.26 669.90)" x="0 7" y="0" class="r"><tspan class="o">1</tspan><tspan class="o">1</tspan></text>
<text id="t165" transform="matrix(2.3028 0 0 1.9864 687.89 669.90)" x="0 7 14 17" y="0" class="r">44.4</text>
<text id="t166" transform="matrix(2.3028 0 0 1.9864 767.88 669.90)" x="0 7 14 17 24" y="0" class="r">85.83</text>
<text id="t167" transform="matrix(2.3028 0 0 1.9864 894.59 669.90)" x="0 7" y="0" class="r"><tspan class="o">1</tspan>0</text>
<text id="t168" transform="matrix(2.3028 0 0 1.9864 976.45 669.90)" x="0 7 10 17" y="0" class="r">7.9%</text>
<text id="t169" transform="matrix(2.3028 0 0 1.9864 1099.79 669.90)" x="0 7 14 17 24 31 34 37 41 48 51 58 65 68 71 78 85 88 95 102" y="0" class="r">44.30 [-9.24, 97.84]</text>
<text id="t170" transform="matrix(2.3028 0 0 1.9864 107.03 698.80)" x="0 8 14 20 23 30 34 37 44 51 58" y="0" class="r">Skyler 20<tspan class="o">1</tspan>5</text>
<text id="t171" transform="matrix(2.3028 0 0 1.9864 402.79 698.80)" x="0 4 11 14 21" y="0" class="r">-6.76</text>
<text id="t172" transform="matrix(2.3028 0 0 1.9864 488.06 698.80)" x="0 7 14 17 24" y="0" class="r">49.88</text>
<text id="t173" transform="matrix(2.3028 0 0 1.9864 616.98 698.80)" x="0 7" y="0" class="r">45</text>
<text id="t174" transform="matrix(2.3028 0 0 1.9864 702.09 698.80)" x="0 4 11" y="0" class="r">-<tspan class="o">1</tspan>8</text>
<text id="t175" transform="matrix(2.3028 0 0 1.9864 784.09 698.80)" x="0 7 14 17" y="0" class="r">85.9</text>
<text id="t176" transform="matrix(2.3028 0 0 1.9864 894.68 698.80)" x="0 7" y="0" class="r"><tspan class="o">1</tspan>5</text>
<text id="t177" transform="matrix(2.3028 0 0 1.9864 976.45 698.80)" x="0 7 10 17" y="0" class="r">9.8%</text>
<text id="t178" transform="matrix(2.3028 0 0 1.9864 1083.67 698.80)" x="0 7 14 17 24 31 34 37 41 48 55 58 65 72 75 78 85 92 95 102 109" y="0" class="r"><tspan class="o">1</tspan><tspan class="o">1</tspan>.24 [-34.6<tspan class="o">1</tspan>, 57.09]</text>
<text id="t179" transform="matrix(2.2725 0 0 1.8895 108.10 751.70)" x="0 6.74 13.48 17.33 24.07 26.96 29.84 33.69 40.43 47.17 57.76 60.65 69.32 72.2" y="0" class="b">Total (95% CI)</text>
<text id="t180" transform="matrix(2.2725 0 0 1.8895 601.30 751.70)" x="0 7 14" y="0" class="b"><tspan class="o">1</tspan>33</text>
<text id="t181" transform="matrix(2.2725 0 0 1.8895 879.14 751.70)" x="0 7 14" y="0" class="b"><tspan class="o">1</tspan>00</text>
<text id="t182" transform="matrix(2.2725 0 0 1.8895 949.52 751.70)" x="0 6.54 13.09 19.63 22.43 28.98" y="0" class="b"><tspan class="o">1</tspan>00.0%</text>
<text id="t183" transform="matrix(2.2725 0 0 1.8895 1102.14 751.70)" x="0 4.03 11.09 14.12 21.18 28.24 31.27 35.3 39.34 46.4 53.46 56.48 63.54 70.6 73.63 76.66 83.72 86.74 93.8 100.86" y="0" class="b">-9.94 [-27.9<tspan class="o">1</tspan>, 8.03]</text>
<text id="t184" transform="matrix(2.3028 0 0 1.9864 106.13 784.50)" x="0 8.99 15.98 18.98 25.97 29.97 36.96 43.95 50.95 57.94 64.93 67.93 70.93 76.92 79.92 82.91 89.91 96.9 103.89 107.89 110.89 117.88 120.88 127.87 134.86 141.85 144.85 151.84 158.84 161.83 164.83 173.82 180.81 183.81 187.81 190.8 197.8 200.79 207.79 214.78 217.78 224.77 231.76 234.76 237.76 244.75 247.75 250.74 257.74 260.73 267.73 270.72 274.72 282.71 285.71 292.7 295.7 302.69 305.69 312.68 319.67 326.67 333.66 337.65 340.65 343.65 346.64 350.64 353.64 360.63 363.63 370.62 377.61" y="0" class="r">Heterogeneity: Tau<tspan class="sup">²</tspan> = 3<tspan class="o">1</tspan>2.84; Chi<tspan class="sup">²</tspan> = 20.82, df = 5 (P = 0.0009); I<tspan class="sup">²</tspan> = 76%</text>
<text id="t185" transform="matrix(2.3028 0 0 1.9864 107.79 813.00)" x="0 7 13.99 19.99 22.99 25.99 28.98 35.98 39.98 42.98 49.97 55.97 62.96 66.96 73.96 76.96 79.95 82.95 89.95 92.95 95.95 102.94 108.94 111.94 114.93 117.93 124.93 127.93 134.92 137.92 144.92 147.92 154.91 161.91 164.91 168.9 176.9 179.9 186.89 189.89 196.89 199.89 206.88 213.88" y="0" class="r">Test for overall effect: Z = <tspan class="o">1</tspan>.08 (P = 0.28)</text>
<text id="t186" transform="matrix(2.3028 0 0 1.8290 1498.38 798.60)" x="0 4 11" y="0" class="r" style="fill:#1a1a1a;--c:#1a1a1a;">-50</text>
<text id="t187" transform="matrix(2.3028 0 0 1.8290 1575.12 798.60)" x="0 4 11" y="0" class="r" style="fill:#1a1a1a;--c:#1a1a1a;">-25</text>
<text id="t188" transform="matrix(2.3028 0 0 1.8290 1664.52 798.60)" x="0" y="0" class="r" style="fill:#1a1a1a;--c:#1a1a1a;">0</text>
<text id="t189" transform="matrix(2.3028 0 0 1.8290 1733.05 798.60)" x="0 7" y="0" class="r" style="fill:#1a1a1a;--c:#1a1a1a;">25</text>
<text id="t190" transform="matrix(2.3028 0 0 1.8290 1809.84 798.60)" x="0 7" y="0" class="r" style="fill:#1a1a1a;--c:#1a1a1a;">50</text>
<text id="t191" transform="matrix(2.3028 0 0 1.7563 1478.13 823.90)" x="0 6.88 13.76 19.65 26.53 33.41 37.34 43.24 46.19 49.13 58.96 66.82 75.67" y="0" class="r" style="fill:#444;--c:#444;">Favours [MSC]</text>
<text id="t192" transform="matrix(2.3028 0 0 1.7563 1683.43 823.90)" x="0 6.98 13.95 19.93 26.91 33.88 37.87 43.85 46.84 49.83 55.8 62.78 69.76 72.75 76.73 83.71 86.7" y="0" class="r" style="fill:#444;--c:#444;">Favours [control]</text>
<text id="t193" transform="matrix(0.9599 0 0 0.9932 5.78 967.30)" x="0" y="0" class="b" style="font-size:36px;stroke:#000;stroke-width:0.6px;fill:#000;--c:#000;">C</text>
<text id="t194" transform="matrix(2.2275 0 0 1.6594 425.41 931.00)" x="0 8.08 15.14 22.21 29.28 34.32 37.35 48.46 55.52 62.59 66.63 73.7" y="0" class="b">Experimental</text>
<text id="t195" transform="matrix(2.2275 0 0 1.6594 754.10 931.00)" x="0 8.85 15.74 22.63 26.56 31.48 38.37" y="0" class="b">Control</text>
<text id="t196" transform="matrix(2.2275 0 0 1.6594 1098.31 931.00)" x="0 10.15 17.25 24.35 31.46 34.5 43.63 46.68 50.73 54.79 61.9 66.97 74.07 81.17 88.28" y="0" class="b">Mean Difference</text>
<text id="t197" transform="matrix(2.2275 0 0 1.6594 1570.91 931.00)" x="0 10.16 17.27 24.38 31.49 34.53 43.68 46.72 50.79 54.85 61.96 67.04 74.15 81.26 88.37" y="0" class="b">Mean Difference</text>
<text id="t198" transform="matrix(2.2275 0 0 1.6594 105.82 957.00)" x="0 8 12 19 26 33 36 43 48 51 59 66 73 80 85 92 99" y="0" class="b">Study or Subgroup</text>
<text id="t199" transform="matrix(2.2275 0 0 1.6594 389.01 957.00)" x="0 10.33 17.56 24.79" y="0" class="b">Mean</text>
<text id="t200" transform="matrix(2.2275 0 0 1.6594 533.42 957.00)" x="0 7.27" y="0" class="b">SD</text>
<text id="t201" transform="matrix(2.2275 0 0 1.6594 595.21 957.00)" x="0 6.76 13.52 17.38 24.14" y="0" class="b">Total</text>
<text id="t202" transform="matrix(2.2275 0 0 1.6594 677.41 957.00)" x="0 10.4 17.69 24.97" y="0" class="b">Mean</text>
<text id="t203" transform="matrix(2.2275 0 0 1.6594 822.42 957.00)" x="0 7.09" y="0" class="b">SD</text>
<text id="t204" transform="matrix(2.2275 0 0 1.6594 883.01 957.00)" x="0 6.81 13.62 17.51 24.31" y="0" class="b">Total</text>
<text id="t205" transform="matrix(2.2275 0 0 1.6594 967.87 957.00)" x="0 11.22 18.37 21.43 28.57 35.71" y="0" class="b">Weight</text>
<text id="t206" transform="matrix(2.2275 0 0 1.6594 1107.41 957.00)" x="0 2.96 10.85 13.81 16.77 25.64 32.54 39.45 46.35 53.25 64.1 67.06 70.02 76.92 83.83 94.68 97.63 106.51" y="0" class="b">IV, Random, 95% CI</text>
<text id="t207" transform="matrix(2.2275 0 0 1.6594 1555.41 957.00)" x="0 2.96 10.85 13.81 16.77 25.65 32.56 39.46 46.37 53.28 64.13 67.09 70.05 76.96 83.86 94.72 97.68 106.55" y="0" class="b">IV, Random, 95% CI</text>
<text id="t208" transform="matrix(2.2572 0 0 1.6594 105.78 985.70)" x="0 9 16 19 26 33 40" y="0" class="r">Hu 20<tspan class="o">1</tspan>3</text>
<text id="t209" transform="matrix(2.2572 0 0 1.6594 398.43 985.70)" x="0 4 11 18 21" y="0" class="r">-<tspan class="o">1</tspan><tspan class="o">1</tspan>.6</text>
<text id="t210" transform="matrix(2.2572 0 0 1.6594 516.51 985.70)" x="0 7 14 17" y="0" class="r">43.5</text>
<text id="t211" transform="matrix(2.2572 0 0 1.6594 625.58 985.70)" x="0 7" y="0" class="r"><tspan class="o">1</tspan>5</text>
<text id="t212" transform="matrix(2.2572 0 0 1.6594 687.18 985.70)" x="0 4 11 14 21" y="0" class="r">-3.25</text>
<text id="t213" transform="matrix(2.2572 0 0 1.6594 805.46 985.70)" x="0 7 14 17" y="0" class="r">52.3</text>
<text id="t214" transform="matrix(2.2572 0 0 1.6594 913.03 985.70)" x="0 7" y="0" class="r"><tspan class="o">1</tspan>4</text>
<text id="t215" transform="matrix(2.2572 0 0 1.6594 979.60 985.70)" x="0 7 14 17 24" y="0" class="r">28.0%</text>
<text id="t216" transform="matrix(2.2572 0 0 1.6594 1105.83 985.70)" x="0 4 11 14 21 28 31 34 38 45 52 55 62 69 72 75 82 89 92 99 106" y="0" class="r">-8.35 [-43.49, 26.79]</text>
<text id="t217" transform="matrix(2.2572 0 0 1.6594 105.78 1011.60)" x="0 9 16 19 26 33 40" y="0" class="r">Hu 20<tspan class="o">1</tspan>6</text>
<text id="t218" transform="matrix(2.2572 0 0 1.6594 398.02 1011.60)" x="0 4 11 18 21" y="0" class="r">-<tspan class="o">1</tspan>9.4</text>
<text id="t219" transform="matrix(2.2572 0 0 1.6594 516.56 1011.60)" x="0 7 14 17" y="0" class="r">33.6</text>
<text id="t220" transform="matrix(2.2572 0 0 1.6594 629.78 1011.60)" x="0 7" y="0" class="r">3<tspan class="o">1</tspan></text>
<text id="t221" transform="matrix(2.2572 0 0 1.6594 696.26 1011.60)" x="0 7 10 17" y="0" class="r"><tspan class="o">1</tspan>.46</text>
<text id="t222" transform="matrix(2.2572 0 0 1.6594 805.62 1011.60)" x="0 7 14 17" y="0" class="r">28.2</text>
<text id="t223" transform="matrix(2.2572 0 0 1.6594 913.30 1011.60)" x="0 7" y="0" class="r">30</text>
<text id="t224" transform="matrix(2.2572 0 0 1.6594 979.60 1011.60)" x="0 7 14 17 24" y="0" class="r">69.0%</text>
<text id="t225" transform="matrix(2.2572 0 0 1.6594 1096.80 1011.60)" x="0 4 11 18 21 28 35 38 41 45 52 59 62 69 76 79 82 86 93 96 103 110" y="0" class="r">-20.86 [-36.4<tspan class="o">1</tspan>, -5.3<tspan class="o">1</tspan>]</text>
<text id="t226" transform="matrix(2.2572 0 0 1.6594 105.51 1037.50)" x="0 3 9 16 23 26 29 36 43 50" y="0" class="r">Izadi 2022</text>
<text id="t227" transform="matrix(2.2572 0 0 1.6594 407.46 1037.50)" x="0 7 14 17" y="0" class="r">58.6</text>
<text id="t228" transform="matrix(2.2572 0 0 1.6594 484.96 1037.50)" x="0 7 14 21 24 31" y="0" class="r"><tspan class="o">1</tspan>67.<tspan class="o">1</tspan>6</text>
<text id="t229" transform="matrix(2.2572 0 0 1.6594 629.78 1037.50)" x="0 7" y="0" class="r"><tspan class="o">1</tspan><tspan class="o">1</tspan></text>
<text id="t230" transform="matrix(2.2572 0 0 1.6594 687.39 1037.50)" x="0 4 11 18 21" y="0" class="r">-<tspan class="o">1</tspan>8.2</text>
<text id="t231" transform="matrix(2.2572 0 0 1.6594 773.80 1037.50)" x="0 7 14 21 24 31" y="0" class="r"><tspan class="o">1</tspan>22.45</text>
<text id="t232" transform="matrix(2.2572 0 0 1.6594 913.30 1037.50)" x="0 7" y="0" class="r"><tspan class="o">1</tspan>0</text>
<text id="t233" transform="matrix(2.2572 0 0 1.6594 995.40 1037.50)" x="0 7 10 17" y="0" class="r">2.9%</text>
<text id="t234" transform="matrix(2.2572 0 0 1.6594 1083.26 1037.50)" x="0 7 14 17 24 31 34 37 41 48 55 58 65 72 75 78 85 92 99 102 109 116" y="0" class="r">76.80 [-47.77, 20<tspan class="o">1</tspan>.37]</text>
<text id="t235" transform="matrix(2.2275 0 0 1.6594 108.11 1085.70)" x="0 6.74 13.48 17.33 24.07 26.96 29.84 33.69 40.43 47.17 57.76 60.65 69.31 72.2" y="0" class="b">Total (95% CI)</text>
<text id="t236" transform="matrix(2.2275 0 0 1.6594 626.02 1085.70)" x="0 7" y="0" class="b">57</text>
<text id="t237" transform="matrix(2.2275 0 0 1.6594 912.78 1085.70)" x="0 7" y="0" class="b">54</text>
<text id="t238" transform="matrix(2.2275 0 0 1.6594 966.97 1085.70)" x="0 6.67 13.33 20 22.86 29.52" y="0" class="b"><tspan class="o">1</tspan>00.0%</text>
<text id="t239" transform="matrix(2.2275 0 0 1.6594 1099.16 1085.70)" x="0 4.09 11.25 18.41 21.48 28.63 35.79 38.86 42.95 47.04 54.2 61.36 64.43 71.58 78.74 81.81 84.88 92.04 95.11 102.26 109.42" y="0" class="b">-<tspan class="o">1</tspan>4.48 [-36.<tspan class="o">1</tspan>4, 7.<tspan class="o">1</tspan>8]</text>
<text id="t240" transform="matrix(2.2572 0 0 1.6594 105.88 1115.00)" x="0 9.04 16.07 19.08 26.12 30.13 37.16 44.19 51.23 58.26 65.29 68.3 71.31 77.34 80.35 83.37 90.4 97.43 104.46 108.48 111.49 118.52 121.54 128.57 135.6 142.63 145.64 152.67 159.7 162.72 165.73 174.77 181.8 184.81 188.83 191.85 198.88 201.89 208.92 211.93 218.97 226 229.01 232.02 239.05 242.07 245.08 252.11 255.12 262.16 265.17 269.19 277.22 280.24 287.27 290.28 297.31 300.32 307.36 314.39 318.4 321.42 324.43 327.44 331.46 334.47 341.51 344.52 351.55 358.58" y="0" class="r">Heterogeneity: Tau<tspan class="sup">²</tspan> = <tspan class="o">1</tspan><tspan class="o">1</tspan>3.97; Chi<tspan class="sup">²</tspan> = 2.64, df = 2 (P = 0.27); I<tspan class="sup">²</tspan> = 24%</text>
<text id="t241" transform="matrix(2.2572 0 0 1.6594 107.50 1140.50)" x="0 7.04 14.08 20.11 23.13 26.15 29.16 36.2 40.22 43.24 50.28 56.31 63.35 67.38 74.42 77.43 80.45 83.47 90.51 93.52 96.54 103.58 109.61 112.63 115.65 118.66 125.7 128.72 135.76 138.78 145.81 148.83 155.87 162.91 165.93 169.95 177.99 181.01 188.05 191.07 198.11 201.12 208.16 215.2" y="0" class="r">Test for overall effect: Z = <tspan class="o">1</tspan>.3<tspan class="o">1</tspan> (P = 0.<tspan class="o">1</tspan>9)</text>
<text id="t242" transform="matrix(2.2572 0 0 1.7078 1384.49 1127.80)" x="0 4 11 18" y="0" class="r" style="fill:#1a1a1a;--c:#1a1a1a;">-<tspan class="o">1</tspan>00</text>
<text id="t243" transform="matrix(2.2572 0 0 1.7078 1524.89 1127.80)" x="0 4 11" y="0" class="r" style="fill:#1a1a1a;--c:#1a1a1a;">-50</text>
<text id="t244" transform="matrix(2.2572 0 0 1.7078 1669.87 1127.80)" x="0" y="0" class="r" style="fill:#1a1a1a;--c:#1a1a1a;">0</text>
<text id="t245" transform="matrix(2.2572 0 0 1.7078 1794.46 1127.80)" x="0 7" y="0" class="r" style="fill:#1a1a1a;--c:#1a1a1a;">50</text>
<text id="t246" transform="matrix(2.2572 0 0 1.7078 1918.05 1127.80)" x="0 7 14" y="0" class="r" style="fill:#1a1a1a;--c:#1a1a1a;"><tspan class="o">1</tspan>00</text>
<text id="t247" transform="matrix(2.2572 0 0 1.6957 1486.58 1151.30)" x="0 6.88 13.75 19.64 26.52 33.4 37.32 43.22 46.16 49.11 58.93 66.79 75.63" y="0" class="r" style="fill:#444;--c:#444;">Favours [MSC]</text>
<text id="t248" transform="matrix(2.2572 0 0 1.6957 1687.98 1151.30)" x="0 7.02 14.03 20.04 27.06 34.08 38.08 44.1 47.1 50.11 56.12 63.14 70.16 73.16 77.17 84.19 87.19" y="0" class="r" style="fill:#444;--c:#444;">Favours [control]</text>
</svg>
</body></html>
